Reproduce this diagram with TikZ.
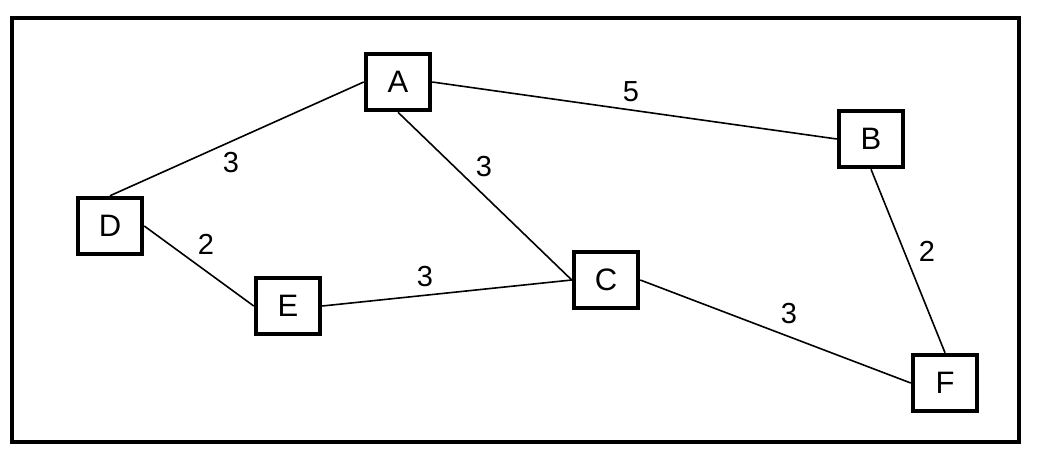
\documentclass[tikz,border=0pt]{standalone}
\usepackage{fontspec}
\setmainfont{Liberation Sans}
\begin{document}
\begin{tikzpicture}[x=1pt, y=-1pt,
  vertex/.style={draw, line width=4.5pt, minimum width=64pt, minimum height=56pt, inner sep=0pt, font=\fontsize{31}{31}\selectfont},
  weight/.style={inner sep=0pt, font=\fontsize{29}{29}\selectfont}]
\useasboundingbox (0,0) rectangle (1043,458);
\draw[line width=4.5pt] (12,18) rectangle (1019,442);
\node[vertex] (A) at (398,82){A};
\node[vertex] (B) at (871,139){B};
\node[vertex] (C) at (606,280){C};
\node[vertex] (D) at (110,226){D};
\node[vertex] (E) at (288,306){E};
\node[vertex] (F) at (945,383){F};
\draw[line width=1.6pt](D.north) -- (A.west);
\draw[line width=1.6pt](A.east) -- (B.west);
\draw[line width=1.6pt](A.south) -- (C.west);
\draw[line width=1.6pt](D.east) -- (E.west);
\draw[line width=1.6pt](E.east) -- (C.west);
\draw[line width=1.6pt](C.east) -- (F.west);
\draw[line width=1.6pt](B.south) -- (F.north);
\node[weight] (wDA) at (231,163){3};
\node[weight] (wAB) at (631,92){5};
\node[weight] (wAC) at (484,167){3};
\node[weight] (wDE) at (206,244){2};
\node[weight] (wEC) at (425,277){3};
\node[weight] (wCF) at (789,314){3};
\node[weight] (wBF) at (927,251){2};
\end{tikzpicture}
\end{document}
